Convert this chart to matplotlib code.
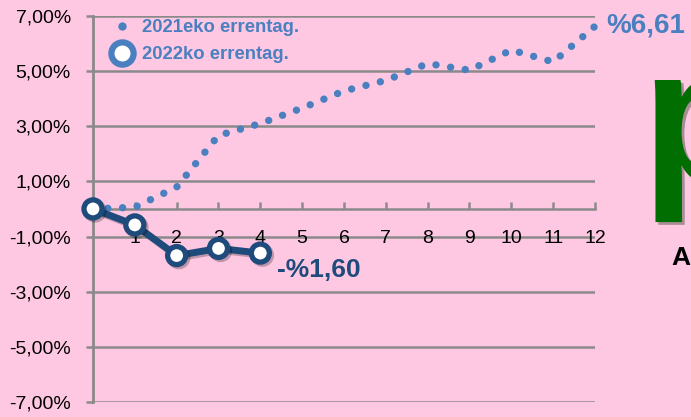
import matplotlib.pyplot as plt
from matplotlib.lines import Line2D
from matplotlib.ticker import FixedLocator, FuncFormatter
import matplotlib.patheffects as pe

plt.rcParams['font.family'] = ['Liberation Sans', 'DejaVu Sans']

# datuak
months_2021 = [0, 1, 2, 3, 4, 5, 6, 7, 8, 9, 10, 11, 12]
values_2021 = [0.0, 0.06, 0.79, 2.66, 3.09, 3.65, 4.27, 4.65, 5.26, 5.02, 5.75, 5.32, 6.61]
months_2022 = [0, 1, 2, 3, 4]
values_2022 = [0.0, -0.58, -1.69, -1.43, -1.60]
y_ticks = [-7, -5, -3, -1, 1, 3, 5, 7]
x_ticks = [1, 2, 3, 4, 5, 6, 7, 8, 9, 10, 11, 12]
labels = ['2021eko errentag.', '2022ko errentag.']

bg = '#ffc8e2'
c21 = '#4a80c0'
c22 = '#1f4b7c'
grey = '#8a8a8a'

fig = plt.figure(figsize=(6.91, 4.17), dpi=100, facecolor=bg)
ax = fig.add_axes([93/691, 1 - 402.3/417, (595-93)/691, (402.3-15.5)/417])
ax.set_facecolor(bg)
ax.set_xlim(0, 12)
ax.set_ylim(-7, 7)

for v in y_ticks:
    ax.axhline(v, color=grey, lw=1.8, zorder=1)

for s in ['top', 'right']:
    ax.spines[s].set_visible(False)
ax.spines['left'].set_color(grey)
ax.spines['left'].set_linewidth(2)
ax.spines['bottom'].set_position(('data', 0))
ax.spines['bottom'].set_color(grey)
ax.spines['bottom'].set_linewidth(1.8)

ax.yaxis.set_major_locator(FixedLocator(y_ticks))
ax.yaxis.set_major_formatter(FuncFormatter(lambda v, p: ('%.2f%%' % v).replace('.', ',')))
ax.tick_params(axis='y', direction='out', length=5, width=1.8, color=grey,
               labelsize=14, labelcolor='black', pad=11)
ax.set_xticks(x_ticks)
ax.set_xticklabels([str(m) for m in x_ticks])
ax.tick_params(axis='x', direction='in', length=5, width=1.8, color=grey,
               labelsize=14, labelcolor='black', pad=15)

ax.plot(months_2021, values_2021, color=c21, lw=5.3, linestyle=(0, (0.01, 2)),
        dash_capstyle='round', zorder=3, clip_on=False)

shadow = [pe.SimpleLineShadow(offset=(1.5, -1.5), alpha=0.25), pe.Normal()]
ax.plot(months_2022, values_2022, color=c22, lw=5, marker='o', markersize=13,
        markerfacecolor='white', markeredgecolor=c22, markeredgewidth=3.8,
        solid_joinstyle='round', zorder=4, clip_on=False, path_effects=shadow)

handles = [
    Line2D([], [], linestyle='none', marker='o', markersize=5, color=c21),
    Line2D([], [], linestyle='none', marker='o', markersize=16, markerfacecolor='white',
           markeredgecolor=c21, markeredgewidth=4.5),
]
leg = ax.legend(handles, labels, loc='upper left', bbox_to_anchor=(0.022, 1.012),
                frameon=False, handlelength=1.0, handletextpad=0.6,
                labelspacing=0.55, borderaxespad=0.05,
                prop={'weight': 'bold', 'size': 13.3})
for t in leg.get_texts():
    t.set_color(c21)

ax.annotate('%6,61', xy=(12, values_2021[-1]), xytext=(8.0, -4.8),
            textcoords='offset points', ha='left', va='baseline',
            fontsize=20, fontweight='bold', color=c21, annotation_clip=False)
ax.annotate('-%1,60', xy=(4, values_2022[-1]), xytext=(12, -17),
            textcoords='offset points', ha='left', va='baseline',
            fontsize=19, fontweight='bold', color=c22, annotation_clip=False)

# ondoko elementuen zatiak
fig.text(642/691, 1 - 182/417, 'p', fontsize=139, fontweight='bold', color='#006e00',
         ha='left', va='baseline',
         path_effects=[pe.withSimplePatchShadow(offset=(2, -2), alpha=0.35)])
fig.text(671/691, 1 - 265/417, 'A', fontsize=19, fontweight='bold', color='black',
         ha='left', va='baseline')

plt.savefig('out.png', dpi=100, facecolor=bg)
